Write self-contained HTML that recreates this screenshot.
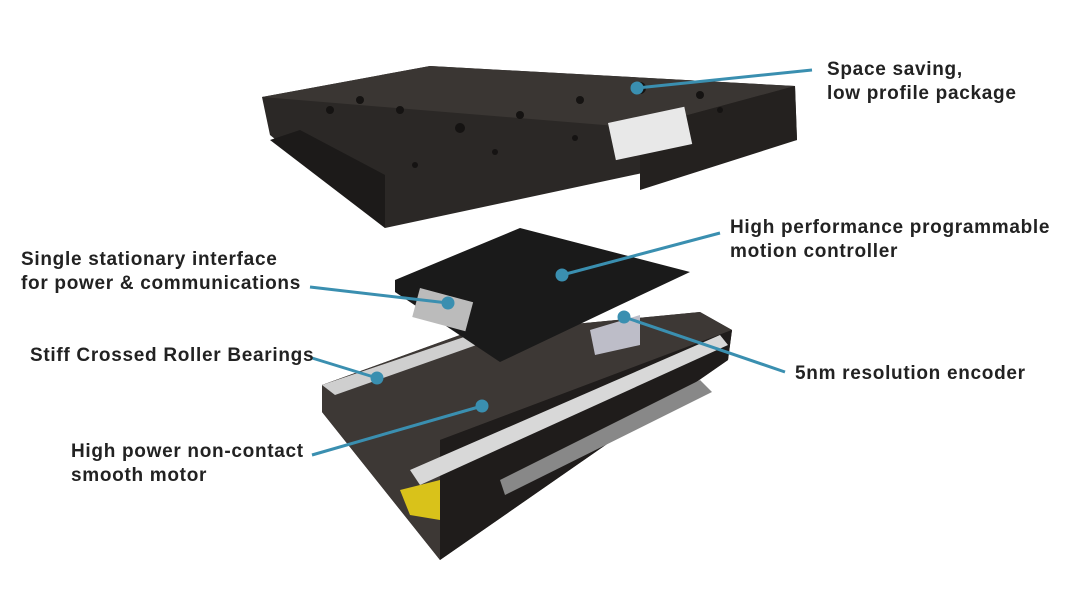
<!DOCTYPE html>
<html><head><meta charset="utf-8"><style>
body{margin:0;width:1078px;height:593px;background:#fff;overflow:hidden;font-family:"Liberation Sans",sans-serif}
.t{position:absolute;font-size:19px;font-weight:bold;color:#222;line-height:24px;letter-spacing:0.7px}
</style></head><body>
<svg width="1078" height="593" style="position:absolute;left:0;top:0">
<!-- top plate -->
<polygon points="262,97 430,66 795,86 797,140 385,228 270,135" fill="#2b2826"/>
<polygon points="262,97 430,66 795,86 640,128" fill="#3a3633"/>
<polygon points="640,128 795,86 797,140 640,190" fill="#24211f"/>
<polygon points="300,130 385,175 385,228 270,140" fill="#1c1a19"/>
<rect x="608" y="123" width="78" height="38" fill="#e8e8e8" transform="rotate(-12 608 123)"/>
<g fill="#151312">
<circle cx="640" cy="88" r="6"/><circle cx="460" cy="128" r="5"/><circle cx="400" cy="110" r="4"/><circle cx="520" cy="115" r="4"/><circle cx="580" cy="100" r="4"/><circle cx="700" cy="95" r="4"/><circle cx="360" cy="100" r="4"/><circle cx="330" cy="110" r="4"/><circle cx="720" cy="110" r="3"/><circle cx="575" cy="138" r="3"/><circle cx="495" cy="152" r="3"/><circle cx="415" cy="165" r="3"/>
</g>
<!-- bottom stage -->
<polygon points="322,385 460,335 700,312 732,330 728,360 440,560 322,412" fill="#2a2624"/>
<polygon points="322,385 460,335 700,312 732,330 440,440 440,560 322,412" fill="#3d3835"/>
<polygon points="440,440 732,330 728,360 440,560" fill="#1f1c1b"/>
<polygon points="322,385 470,335 485,342 335,395" fill="#cfcfcf"/>
<polygon points="410,470 720,335 728,345 420,485" fill="#d8d8d8"/>
<polygon points="500,480 700,380 712,392 505,495" fill="#888"/>
<polygon points="400,490 440,480 440,520 410,515" fill="#d9c21a"/>
<!-- pcb -->
<polygon points="395,280 520,228 690,272 620,305 500,362 395,292" fill="#1a1a1a"/>
<polygon points="590,330 640,315 640,345 595,355" fill="#bdbdc8"/>
<rect x="420" y="288" width="55" height="30" fill="#bbb" transform="rotate(15 420 288)"/>
<!-- leaders -->
<g stroke="#3a8fb0" stroke-width="3" fill="#3a8fb0">
<line x1="637" y1="88" x2="812" y2="70"/><circle cx="637" cy="88" r="5"/>
<line x1="562" y1="275" x2="720" y2="233"/><circle cx="562" cy="275" r="5"/>
<line x1="310" y1="287" x2="448" y2="303"/><circle cx="448" cy="303" r="5"/>
<line x1="624" y1="317" x2="785" y2="372"/><circle cx="624" cy="317" r="5"/>
<line x1="312" y1="358" x2="377" y2="378"/><circle cx="377" cy="378" r="5"/>
<line x1="312" y1="455" x2="482" y2="406"/><circle cx="482" cy="406" r="5"/>
</g>
</svg>
<div class="t" style="left:827px;top:58px">Space saving,<br>low profile package</div>
<div class="t" style="left:730px;top:216px">High performance programmable<br>motion controller</div>
<div class="t" style="left:21px;top:248px">Single stationary interface<br>for power &amp; communications</div>
<div class="t" style="left:30px;top:344px">Stiff Crossed Roller Bearings</div>
<div class="t" style="left:795px;top:362px">5nm resolution encoder</div>
<div class="t" style="left:71px;top:440px">High power non-contact<br>smooth motor</div>
</body></html>
